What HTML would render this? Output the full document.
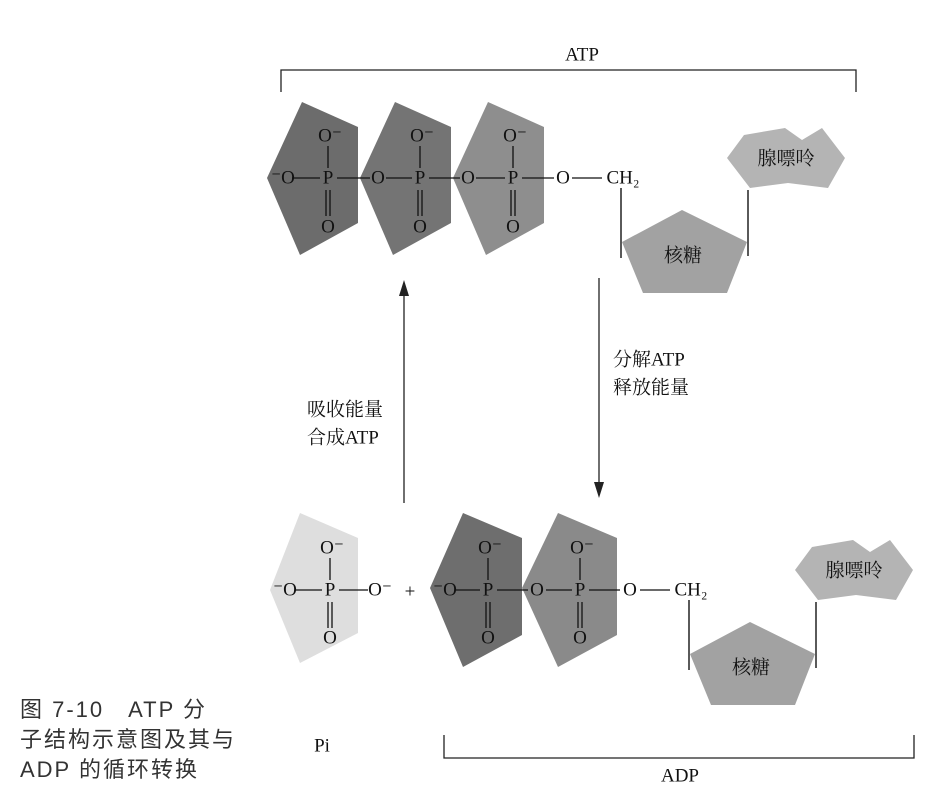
<!DOCTYPE html>
<html><head><meta charset="utf-8"><style>
body{margin:0;background:#fff;}
svg{display:block}
.t{font-family:"Liberation Serif","Noto Serif CJK SC",serif;font-size:19px;fill:#111;text-anchor:middle;dominant-baseline:central}
.c{font-family:"Liberation Sans","Noto Sans CJK SC",sans-serif;font-size:22px;fill:#333;letter-spacing:2px}
</style></head><body>
<svg width="946" height="811" viewBox="0 0 946 811" xmlns="http://www.w3.org/2000/svg">
<g stroke="#222" stroke-width="1.3" fill="none">
<path d="M281,92 V70 H856 V92"/>
<path d="M444,735 V758 H914 V735"/>
<line x1="404" y1="503" x2="404" y2="290"/>
<line x1="599" y1="278" x2="599" y2="490"/>
</g>
<path d="M404,280 l-5,16 h10z" fill="#222"/>
<path d="M599,498 l-5,-16 h10z" fill="#222"/>
<text x="582" y="55" class="t">ATP</text>
<text x="680" y="776" class="t">ADP</text>
<text x="613" y="360" class="t" style="text-anchor:start">分解ATP</text>
<text x="613" y="388" class="t" style="text-anchor:start">释放能量</text>
<text x="307" y="410" class="t" style="text-anchor:start">吸收能量</text>
<text x="307" y="438" class="t" style="text-anchor:start">合成ATP</text>
<text x="322" y="746" class="t">Pi</text>

<!-- top phosphates -->
<polygon points="267,178 302,102 358,127 358,223 300,255" fill="#6c6c6c"/>
<polygon points="360,178 395,102 451,127 451,223 393,255" fill="#747474"/>
<polygon points="453,178 488,102 544,127 544,223 486,255" fill="#8e8e8e"/>
<g stroke="#111" stroke-width="1.3">
<line x1="292" y1="178" x2="320" y2="178"/><line x1="337" y1="178" x2="370" y2="178"/>
<line x1="386" y1="178" x2="412" y2="178"/><line x1="429" y1="178" x2="460" y2="178"/>
<line x1="476" y1="178" x2="505" y2="178"/><line x1="522" y1="178" x2="554" y2="178"/>
<line x1="572" y1="178" x2="602" y2="178"/>
<line x1="328" y1="146" x2="328" y2="168"/><line x1="420" y1="146" x2="420" y2="168"/><line x1="513" y1="146" x2="513" y2="168"/>
<line x1="326" y1="190" x2="326" y2="216"/><line x1="330" y1="190" x2="330" y2="216"/>
<line x1="418" y1="190" x2="418" y2="216"/><line x1="422" y1="190" x2="422" y2="216"/>
<line x1="511" y1="190" x2="511" y2="216"/><line x1="515" y1="190" x2="515" y2="216"/>
</g>
<g class="t">
<text x="283" y="178">⁻O</text><text x="328" y="178">P</text><text x="378" y="178">O</text><text x="420" y="178">P</text><text x="468" y="178">O</text><text x="513" y="178">P</text><text x="563" y="178">O</text>
<text x="330" y="136">O⁻</text><text x="422" y="136">O⁻</text><text x="515" y="136">O⁻</text>
<text x="328" y="227">O</text><text x="420" y="227">O</text><text x="513" y="227">O</text>
</g>
<g id="nuc">
<polygon points="682,210 747,242 727,293 643,293 622,242" fill="#a2a2a2"/>
<polygon points="727,158 744,135 785,128 802,140 822,128 845,158 828,188 788,183 750,188" fill="#b4b4b4"/>
<g stroke="#222" stroke-width="1.5"><line x1="621" y1="188" x2="621" y2="258"/><line x1="748" y1="190" x2="748" y2="256"/></g>
<text x="623" y="178" class="t">CH₂</text>
<text x="683" y="256" class="t">核糖</text>
<text x="786" y="159" class="t">腺嘌呤</text>
</g>
<!-- bottom -->
<polygon points="270,590 300,513 358,538 358,633 300,663" fill="#dedede"/>
<polygon points="430,588 463,513 522,538 522,635 463,667" fill="#6e6e6e"/>
<polygon points="522,588 558,513 617,538 617,635 558,667" fill="#8a8a8a"/>
<g stroke="#111" stroke-width="1.3">
<line x1="295" y1="590" x2="322" y2="590"/><line x1="339" y1="590" x2="368" y2="590"/>
<line x1="456" y1="590" x2="480" y2="590"/><line x1="497" y1="590" x2="528" y2="590"/>
<line x1="546" y1="590" x2="572" y2="590"/><line x1="589" y1="590" x2="620" y2="590"/>
<line x1="640" y1="590" x2="670" y2="590"/>
<line x1="330" y1="558" x2="330" y2="580"/><line x1="488" y1="558" x2="488" y2="580"/><line x1="580" y1="558" x2="580" y2="580"/>
<line x1="328" y1="602" x2="328" y2="628"/><line x1="332" y1="602" x2="332" y2="628"/>
<line x1="486" y1="602" x2="486" y2="628"/><line x1="490" y1="602" x2="490" y2="628"/>
<line x1="578" y1="602" x2="578" y2="628"/><line x1="582" y1="602" x2="582" y2="628"/>
</g>
<g class="t">
<text x="285" y="590">⁻O</text><text x="330" y="590">P</text><text x="380" y="590">O⁻</text><text x="410" y="592">+</text>
<text x="445" y="590">⁻O</text><text x="488" y="590">P</text><text x="537" y="590">O</text><text x="580" y="590">P</text><text x="630" y="590">O</text>
<text x="332" y="548">O⁻</text><text x="490" y="548">O⁻</text><text x="582" y="548">O⁻</text>
<text x="330" y="638">O</text><text x="488" y="638">O</text><text x="580" y="638">O</text>
</g>
<g transform="translate(68,412)">
<polygon points="682,210 747,242 727,293 643,293 622,242" fill="#a2a2a2"/>
<polygon points="727,158 744,135 785,128 802,140 822,128 845,158 828,188 788,183 750,188" fill="#b4b4b4"/>
<g stroke="#222" stroke-width="1.5"><line x1="621" y1="188" x2="621" y2="258"/><line x1="748" y1="190" x2="748" y2="256"/></g>
<text x="623" y="178" class="t">CH₂</text>
<text x="683" y="256" class="t">核糖</text>
<text x="786" y="159" class="t">腺嘌呤</text>
</g>
<text x="20" y="717" class="c">图 7-10　ATP 分</text>
<text x="20" y="747" class="c">子结构示意图及其与</text>
<text x="20" y="777" class="c">ADP 的循环转换</text>
</svg>
</body></html>
